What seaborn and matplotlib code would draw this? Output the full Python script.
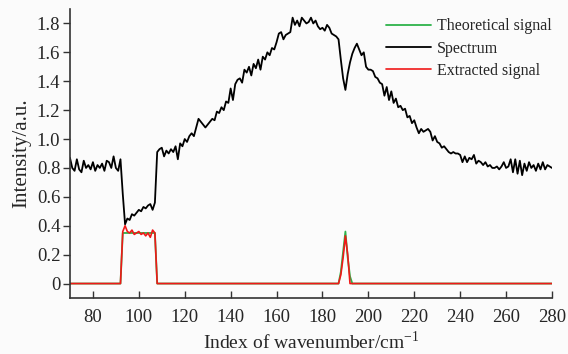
import numpy as np
import pandas as pd
import matplotlib
matplotlib.use('Agg')
import matplotlib.pyplot as plt
import seaborn as sns

# wavenumber index
wavenumber = list(range(70, 281))

spectrum = [
    0.87, 0.80, 0.78, 0.86, 0.79, 0.77, 0.85, 0.80, 0.82, 0.79,   # 70
    0.84, 0.78, 0.82, 0.80, 0.83, 0.78, 0.85, 0.84, 0.80, 0.88,   # 80
    0.80, 0.78, 0.86, 0.62, 0.41, 0.45, 0.44, 0.48, 0.47, 0.49,   # 90
    0.51, 0.50, 0.53, 0.52, 0.54, 0.55, 0.51, 0.56, 0.91, 0.93,   # 100
    0.94, 0.88, 0.92, 0.90, 0.93, 0.91, 0.95, 0.86, 0.97, 0.95,   # 110
    1.00, 0.98, 1.02, 1.04, 1.02, 1.08, 1.14, 1.12, 1.10, 1.08,   # 120
    1.10, 1.12, 1.14, 1.13, 1.19, 1.18, 1.22, 1.20, 1.26, 1.25,   # 130
    1.35, 1.27, 1.38, 1.41, 1.42, 1.39, 1.48, 1.46, 1.50, 1.44,   # 140
    1.52, 1.49, 1.55, 1.48, 1.57, 1.55, 1.60, 1.58, 1.63, 1.62,   # 150
    1.67, 1.73, 1.74, 1.69, 1.72, 1.73, 1.74, 1.84, 1.79, 1.82,   # 160
    1.78, 1.84, 1.82, 1.80, 1.81, 1.84, 1.80, 1.82, 1.78, 1.76,   # 170
    1.77, 1.75, 1.79, 1.77, 1.73, 1.72, 1.71, 1.69, 1.55, 1.42,   # 180
    1.34, 1.45, 1.53, 1.59, 1.63, 1.66, 1.62, 1.58, 1.60, 1.50,   # 190
    1.48, 1.48, 1.47, 1.43, 1.42, 1.39, 1.38, 1.30, 1.36, 1.27,   # 200
    1.33, 1.25, 1.28, 1.22, 1.23, 1.20, 1.21, 1.15, 1.16, 1.11,   # 210
    1.13, 1.08, 1.04, 1.07, 1.05, 1.06, 1.07, 1.05, 0.99, 1.02,   # 220
    0.98, 0.97, 0.94, 0.95, 0.93, 0.91, 0.90, 0.91, 0.90, 0.90,   # 230
    0.89, 0.84, 0.88, 0.84, 0.87, 0.86, 0.89, 0.83, 0.85, 0.84,   # 240
    0.82, 0.84, 0.81, 0.82, 0.80, 0.80, 0.81, 0.79, 0.81, 0.84,   # 250
    0.80, 0.81, 0.86, 0.77, 0.86, 0.76, 0.85, 0.75, 0.83, 0.78,   # 260
    0.84, 0.80, 0.82, 0.78, 0.83, 0.79, 0.84, 0.79, 0.82, 0.81, 0.80,  # 270
]

# theoretical signal: non-zero parts only, zero elsewhere
theory_x = list(range(93, 108)) + [188, 189, 190, 191, 192]
theory_y = [0.35] * 15 + [0.08, 0.22, 0.36, 0.18, 0.05]

# extracted signal
extract_x = list(range(93, 108)) + [188, 189, 190, 191]
extract_y = [0.36, 0.40, 0.36, 0.35, 0.37, 0.34, 0.35, 0.36, 0.34, 0.35,
             0.33, 0.35, 0.32, 0.37, 0.35,
             0.06, 0.18, 0.33, 0.20]

df = pd.DataFrame({'x': wavenumber, 'Spectrum': spectrum})
df['Theoretical signal'] = 0.0
df['Extracted signal'] = 0.0
df.loc[df['x'].isin(theory_x), 'Theoretical signal'] = theory_y
df.loc[df['x'].isin(extract_x), 'Extracted signal'] = extract_y

sns.set_theme(style='ticks')
plt.rcParams['font.family'] = ['Liberation Serif', 'DejaVu Serif']
plt.rcParams['mathtext.fontset'] = 'custom'
plt.rcParams['mathtext.rm'] = 'Liberation Serif'

bg = '#fbfbfb'
fig, ax = plt.subplots(figsize=(5.68, 3.54), dpi=100)
fig.patch.set_facecolor(bg)
ax.set_facecolor(bg)
fig.subplots_adjust(left=0.1232, right=0.9718, top=0.9746, bottom=0.1582)

sns.lineplot(data=df, x='x', y='Spectrum', color='black', lw=1.3, ax=ax, label='Spectrum')
sns.lineplot(data=df, x='x', y='Theoretical signal', color='#2db24a', lw=1.3, ax=ax, label='Theoretical signal')
sns.lineplot(data=df, x='x', y='Extracted signal', color='#f01818', lw=1.2, ax=ax, label='Extracted signal')

ax.set_xlim(70, 280)
ax.set_ylim(-0.1, 1.9)
ax.set_xticks(range(80, 281, 20))
yt = np.round(np.arange(0, 1.81, 0.2), 1)
ax.set_yticks(yt)
ax.set_yticklabels(['0' if v == 0 else f'{v:.1f}' for v in yt])
ax.tick_params(axis='y', direction='out', length=5, width=1, labelsize=13.5, pad=2, color='#333333')
ax.tick_params(axis='x', direction='in', length=5, width=1, labelsize=13.5, pad=8, color='#333333')
for s in ['top', 'right']:
    ax.spines[s].set_visible(False)
for s in ['left', 'bottom']:
    ax.spines[s].set_linewidth(1.2)
    ax.spines[s].set_color('#333333')

ax.set_xlabel(r'Index of wavenumber/cm$^{\mathrm{-1}}$', fontsize=14, labelpad=3)
ax.set_ylabel('Intensity/a.u.', fontsize=15, labelpad=4)

handles, labels = ax.get_legend_handles_labels()
order = [1, 0, 2]
ax.legend([handles[i] for i in order], [labels[i] for i in order],
          loc='upper right', frameon=False, fontsize=11.5,
          handlelength=2.8, handletextpad=0.4, labelspacing=0.4,
          borderpad=0, borderaxespad=0, bbox_to_anchor=(1.0, 0.968))

plt.savefig('out.png', dpi=100, facecolor=bg)
